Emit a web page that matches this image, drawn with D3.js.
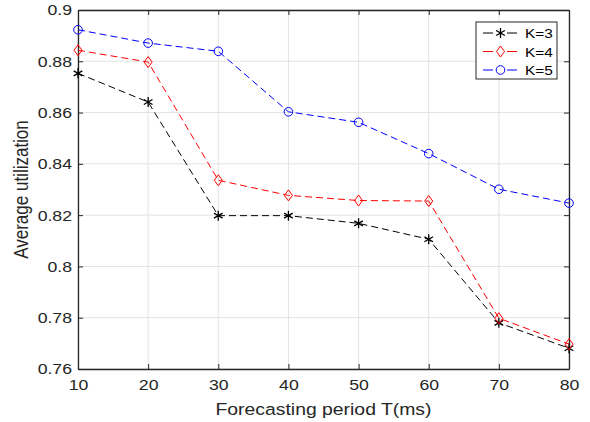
<!DOCTYPE html>
<html>
<head>
<meta charset="utf-8">
<script src="https://cdn.jsdelivr.net/npm/d3@7"></script>
<style>
  body { margin: 0; background: #fff; }
  svg { display: block; font-family: "Liberation Sans", Arial, sans-serif; }
</style>
</head>
<body>
<svg id="chart" width="590" height="422"></svg>
<script>
// data
const periods = [10, 20, 30, 40, 50, 60, 70, 80];
const k3 = [0.8753, 0.8641, 0.8198, 0.8198, 0.8168, 0.8106, 0.7780, 0.7681];
const k4 = [0.8843, 0.8797, 0.8336, 0.8277, 0.8257, 0.8255, 0.7798, 0.7697];
const k5 = [0.8923, 0.8871, 0.8839, 0.8603, 0.8562, 0.8440, 0.8301, 0.8247];
const xTicks = [10, 20, 30, 40, 50, 60, 70, 80];
const yTicks = [0.76, 0.78, 0.8, 0.82, 0.84, 0.86, 0.88, 0.9];

const series = [
  { name: "K=3", values: k3, color: "#000000", marker: "star" },
  { name: "K=4", values: k4, color: "#ff0000", marker: "diamond" },
  { name: "K=5", values: k5, color: "#0000ff", marker: "circle" }
];

const margin = { top: 10, right: 21, bottom: 53, left: 78 };
const W = 590, H = 422;
const iw = W - margin.left - margin.right;
const ih = H - margin.top - margin.bottom;
const STRETCH = 1.14; // the reference figure is a bit wider than tall, text looks stretched

const svg = d3.select("#chart");
const g = svg.append("g").attr("transform", `translate(${margin.left},${margin.top})`);

const x = d3.scaleLinear().domain([10, 80]).range([0, iw]);
const y = d3.scaleLinear().domain([0.76, 0.9]).range([ih, 0]);

// grid
g.append("g").selectAll("line").data(xTicks).join("line")
  .attr("x1", d => x(d)).attr("x2", d => x(d))
  .attr("y1", 0).attr("y2", ih)
  .attr("stroke", "#e3e3e3").attr("stroke-width", 1);
g.append("g").selectAll("line").data(yTicks).join("line")
  .attr("x1", 0).attr("x2", iw)
  .attr("y1", d => y(d)).attr("y2", d => y(d))
  .attr("stroke", "#e3e3e3").attr("stroke-width", 1);

// axes (MATLAB style: ticks inward, box on)
const axisColor = "#262626";
const fmt = d => String(+d.toFixed(2));

const xAxis = g.append("g").attr("transform", `translate(0,${ih})`)
  .call(d3.axisBottom(x).tickValues(xTicks).tickSizeInner(-5).tickSizeOuter(0).tickPadding(10));
const xTop = g.append("g")
  .call(d3.axisTop(x).tickValues(xTicks).tickSizeInner(-5).tickSizeOuter(0).tickFormat(""));
const yAxis = g.append("g")
  .call(d3.axisLeft(y).tickValues(yTicks).tickSizeInner(-5).tickSizeOuter(0).tickPadding(6).tickFormat(fmt));
const yRight = g.append("g").attr("transform", `translate(${iw},0)`)
  .call(d3.axisRight(y).tickValues(yTicks).tickSizeInner(-5).tickSizeOuter(0).tickFormat(""));

[xAxis, xTop, yAxis, yRight].forEach(a => {
  a.select(".domain").attr("stroke", axisColor).attr("stroke-width", 1.3);
  a.selectAll(".tick line").attr("stroke", axisColor).attr("stroke-width", 1);
  a.selectAll(".tick text").attr("fill", "#262626")
    .style("font-size", "15.5px").style("font-family", "Liberation Sans, Arial, sans-serif")
    .each(function() {
      // move the offset into a transform so the glyphs can be widened
      const t = d3.select(this);
      const tx = +t.attr("x") || 0, ty = +t.attr("y") || 0;
      t.attr("x", 0).attr("y", 0)
        .attr("transform", `translate(${tx},${ty}) scale(${STRETCH},1)`);
    });
});

// lines
const line = d3.line().x((d, i) => x(periods[i])).y(d => y(d));
const star = d3.symbol().type(d3.symbolAsterisk).size(70);

function drawMarker(sel, s) {
  if (s.marker === "star") {
    sel.append("path").attr("d", star())
      .attr("fill", "none").attr("stroke", s.color).attr("stroke-width", 1.3);
  } else if (s.marker === "diamond") {
    sel.append("path").attr("d", "M0,-5.5L4,0L0,5.5L-4,0Z")
      .attr("fill", "none").attr("stroke", s.color).attr("stroke-width", 1);
  } else {
    sel.append("circle").attr("r", 4.3)
      .attr("fill", "none").attr("stroke", s.color).attr("stroke-width", 1);
  }
}

series.forEach(s => {
  g.append("path").datum(s.values)
    .attr("d", line)
    .attr("fill", "none")
    .attr("stroke", s.color)
    .attr("stroke-width", 1)
    .attr("stroke-dasharray", "7,4");
  s.values.forEach((v, i) => {
    const m = g.append("g").attr("transform", `translate(${x(periods[i])},${y(v)})`);
    drawMarker(m, s);
  });
});

// legend
const lg = svg.append("g").attr("transform", "translate(476,22)");
lg.append("rect").attr("width", 81).attr("height", 57)
  .attr("fill", "#fff").attr("stroke", "#262626").attr("stroke-width", 1);
series.forEach((s, i) => {
  const row = lg.append("g").attr("transform", `translate(0,${11 + i * 18.5})`);
  row.append("line").attr("x1", 7).attr("x2", 17).attr("y1", 0).attr("y2", 0)
    .attr("stroke", s.color).attr("stroke-width", 1);
  row.append("line").attr("x1", 31).attr("x2", 41).attr("y1", 0).attr("y2", 0)
    .attr("stroke", s.color).attr("stroke-width", 1);
  drawMarker(row.append("g").attr("transform", "translate(24.5,0)"), s);
  row.append("text").attr("transform", `translate(49,5) scale(${STRETCH},1)`)
    .style("font-size", "13.5px").attr("fill", "#000").text(s.name);
});

// axis labels
svg.append("text")
  .attr("transform", `translate(${margin.left + iw / 2},415) scale(${STRETCH},1)`)
  .attr("text-anchor", "middle")
  .style("font-size", "17px").attr("fill", "#262626")
  .text("Forecasting period T(ms)");
svg.append("text")
  .attr("transform", `translate(28,${margin.top + ih / 2}) scale(${STRETCH},1) rotate(-90)`)
  .attr("text-anchor", "middle")
  .style("font-size", "17px").attr("fill", "#262626")
  .text("Average utilization");
</script>
</body>
</html>
